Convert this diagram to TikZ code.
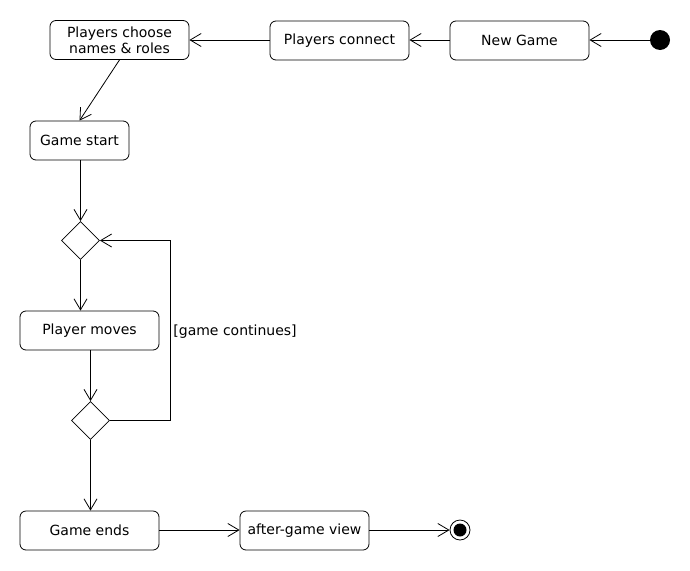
\documentclass[tikz,border=0pt]{standalone}
\usepackage{fontspec}
\setmainfont{DejaVu Sans}
\usetikzlibrary{arrows.meta, shapes.geometric}
\tikzset{>={Straight Barb[length=11pt, width=13pt]}}
\tikzstyle{activity} = [rectangle, rounded corners = 6pt, text centered, align = center, inner sep = 0pt, minimum width = 139pt, minimum height = 39pt, draw = black, font = \fontsize{14}{16}\selectfont]
\tikzstyle{decision} = [diamond, inner sep = 0pt, minimum width = 38pt, minimum height = 38pt, draw = black]
\tikzstyle{flow} = [->, line width = 0.8pt]

\begin{document}
\begin{tikzpicture}[x = 1pt, y = -1pt, line width = 0.8pt]
    \useasboundingbox (0,0) rectangle (690,570);
    % start and the setup steps
    \node (startDot) at (660,40) [circle, fill = black, minimum size = 20pt, inner sep = 0pt] {};
    \node (newGame) at (519.5,40.5) [activity] {New Game};
    \node (connect) at (339.5,40.5) [activity] {Players connect};
    \node (choose) at (119.5,40) [activity] {Players choose\\names \& roles};
    \node (gameStart) at (79.5,140.5) [activity, minimum width = 99pt] {Game start};

    % the game loop
    \node (turnCheck) at (80.5,240.5) [decision] {};
    \node (moves) at (89.5,330.5) [activity] {Player moves};
    \node (endCheck) at (90.5,420.5) [decision] {};
    \coordinate (loopTop) at (170,240.5);
    \node at (173,332) [anchor = west, inner sep = 0pt, font = \fontsize{14}{16}\selectfont] {[game continues]};

    % the end
    \node (gameEnds) at (89.5,530.5) [activity] {Game ends};
    \node (afterView) at (304.5,530.5) [activity, minimum width = 129pt] {after-game view};
    \node (endDot) at (460,530) [circle, draw = black, minimum size = 20pt, inner sep = 0pt] {};
    \fill (endDot.center) circle (6.5pt);

    \draw [flow] (startDot) -- (newGame.east |- startDot);
    \draw [flow] (newGame.west |- startDot) -- (connect.east |- startDot);
    \draw [flow] (connect.west |- startDot) -- (choose.east |- startDot);
    \draw [flow] (choose.south) -- (gameStart.north);
    \draw [flow] (gameStart.south -| turnCheck.north) -- (turnCheck.north);
    \draw [flow] (turnCheck.south) -- (turnCheck.south |- moves.north);
    \draw [flow] (endCheck.north |- moves.south) -- (endCheck.north);
    \draw [flow] (endCheck.east) -| (loopTop) -- (turnCheck.east);
    \draw [flow] (endCheck.south) -- (endCheck.south |- gameEnds.north);
    \draw [flow] (gameEnds.east |- endDot) -- (afterView.west |- endDot);
    \draw [flow] (afterView.east |- endDot) -- (endDot);
\end{tikzpicture}
\end{document}
